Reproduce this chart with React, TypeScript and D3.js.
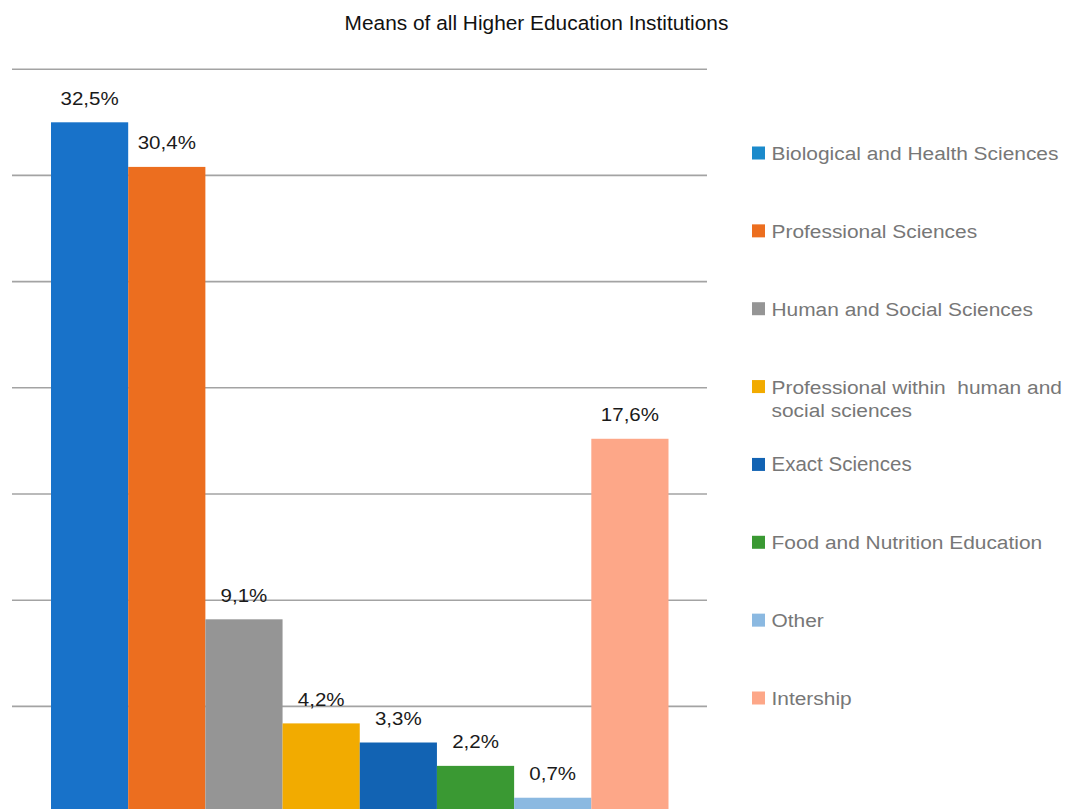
import React from "react";
import * as d3 from "d3";

const title = "Means of all Higher Education Institutions";
const categories = [
  "Biological and Health Sciences",
  "Professional Sciences",
  "Human and Social Sciences",
  "Professional within  human and social sciences",
  "Exact Sciences",
  "Food and Nutrition Education",
  "Other",
  "Intership",
];
const legendLines = [
  ["Biological and Health Sciences"],
  ["Professional Sciences"],
  ["Human and Social Sciences"],
  ["Professional within  human and", "social sciences"],
  ["Exact Sciences"],
  ["Food and Nutrition Education"],
  ["Other"],
  ["Intership"],
];
const values = [32.5, 30.4, 9.1, 4.2, 3.3, 2.2, 0.7, 17.6];
const barColors = ["#1872c9", "#ec6e1f", "#959595", "#f2ab00", "#1263b3", "#3a9933", "#8bb9e1", "#fda788"];
const legendColors = ["#1b8acb", "#ec6e1f", "#959595", "#f2ab00", "#1263b3", "#3a9933", "#8bb9e1", "#fda788"];
const gridTicks = [5, 10, 15, 20, 25, 30, 35];

const W = 1068;
const H = 809;

const locale = d3.formatLocale({ decimal: ",", thousands: ".", grouping: [3], currency: ["", "€"] });
const fmt = locale.format(".1f");

export default function App() {
  const x = d3.scaleBand<string>().domain(categories).range([51, 668.5]).padding(0);
  const y = d3.scaleLinear().domain([0, 35]).range([812.6, 69.2]);
  const font = "'Liberation Sans', Arial, sans-serif";
  const legendY = d3.scalePoint<string>().domain(categories).range([153, 698]);

  return (
    <svg width={W} height={H} style={{ position: "absolute", left: 0, top: 0, background: "#fff" }}>
      <rect width={W} height={H} fill="#fff" />
      <text
        transform={`translate(536.5,30) scale(1.07,1)`}
        textAnchor="middle"
        fontFamily={font}
        fontSize={19.5}
        fill="#111"
      >
        {title}
      </text>
      {gridTicks.map((t) => (
        <line key={t} x1={12} x2={707} y1={y(t)} y2={y(t)} stroke="#a3a3a3" strokeWidth={1.6} />
      ))}
      {categories.map((c, i) => (
        <rect
          key={c}
          x={x(c)!}
          y={y(values[i])}
          width={x.bandwidth()}
          height={y(0) - y(values[i])}
          fill={barColors[i]}
        />
      ))}
      {categories.map((c, i) => (
        <text
          key={"l" + c}
          transform={`translate(${x(c)! + x.bandwidth() / 2},${y(values[i]) - 17.5}) scale(1.08,1)`}
          textAnchor="middle"
          fontFamily={font}
          fontSize={19}
          fill="#1a1a1a"
        >
          {fmt(values[i]) + "%"}
        </text>
      ))}
      {categories.map((c, i) => {
        const cy = legendY(c)!;
        const isExact = c === "Exact Sciences";
        return (
          <g key={"lg" + c}>
            <rect x={752} y={cy - 6.5} width={13} height={13} fill={legendColors[i]} />
            {legendLines[i].map((ln, j) => (
              <text
                key={j}
                transform={`translate(771.5,${cy + 7 + j * 23.5}) scale(${isExact ? 1.0 : 1.1},1)`}
                fontFamily={font}
                fontSize={isExact ? 20.5 : 19}
                fill="#777"
                style={{ whiteSpace: "pre" }}
              >
                {ln}
              </text>
            ))}
          </g>
        );
      })}
    </svg>
  );
}
